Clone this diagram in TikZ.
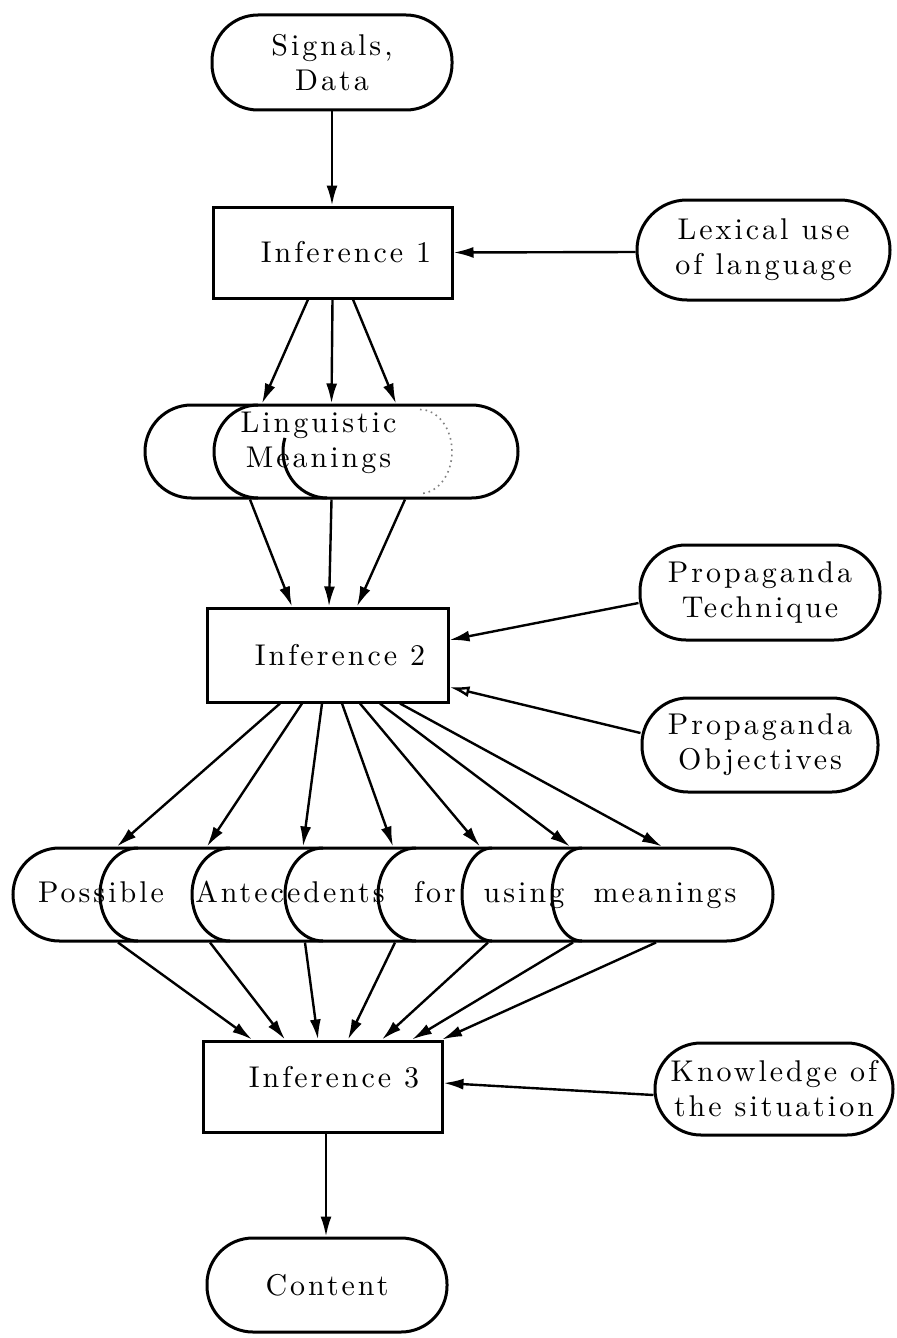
\documentclass[tikz,border=0pt]{standalone}
\usepackage{fontspec}
\setmainfont{lmroman10-regular.otf}[LetterSpace=10]
\usetikzlibrary{arrows.meta,calc}
\newcommand{\dtxt}{\fontsize{15pt}{17.5pt}\selectfont}
\begin{document}
\begin{tikzpicture}[x=0.5pt,y=-0.5pt,
  stad/.style={draw, line width=1.5pt, rounded corners=23pt, inner sep=0pt, align=center, font=\dtxt},
  box/.style={draw, line width=1.5pt, inner sep=0pt},
  txt/.style={inner sep=0pt, align=center, font=\dtxt},
  arr/.style={line width=1.2pt, -{Latex[length=10pt,width=5.5pt]}},
  arc/.style={line width=1.5pt}]
\fill[white] (0,0) rectangle (896,1338);
\useasboundingbox (0,0) rectangle (896,1338);

% top
\node[stad, minimum width=120pt, minimum height=47.5pt] (sig) at (332,62.5) {Signals,\\Data};
\node[box, minimum width=119.5pt, minimum height=45.5pt] (inf1) at (332.5,252.5) {};
\node[txt] (inf1t) at (346,252) {Inference 1};
\node[stad, minimum width=126.5pt, minimum height=50pt, rounded corners=25pt] (lex) at (763.5,250) {Lexical use\\of language};

% linguistic meanings
\node[stad, minimum width=186.5pt, minimum height=46.5pt, rounded corners=23.25pt] (ling) at (331.5,451.5) {};
\draw[arc] (258,405) arc[start angle=270, end angle=90, x radius=44, y radius=46.5];
\draw[arc] (284.9,437.9) arc[start angle=197, end angle=90, x radius=44, y radius=46.5];
\draw[gray, dotted, line width=0.8pt] (420,409.5) arc[start angle=-90, end angle=90, x radius=32, y radius=42];
\node[txt] (lingt) at (318.5,442.5) {Linguistic\\Meanings};

% inference 2
\node[box, minimum width=120.5pt, minimum height=47pt] (inf2) at (327.5,655) {};
\node[txt] (inf2t) at (340,655) {Inference 2};
\node[stad, minimum width=120pt, minimum height=47.5pt] (tech) at (760,592.5) {Propaganda\\Technique};
\node[stad, minimum width=118pt, minimum height=47pt] (obj) at (760,745) {Propaganda\\Objectives};

% possible antecedents
\node[stad, minimum width=380pt, minimum height=46.5pt, rounded corners=23.25pt] (ante) at (393,894.5) {};
\foreach \L/\r in {100/38, 192/38, 285/38, 378/38, 462/30, 552/30}
  \draw[arc] (\L+\r,848) arc[start angle=270, end angle=90, x radius=\r, y radius=46.5];
\node[txt, anchor=base] (a1) at (101,902) {Possible};
\node[txt, anchor=base] (a2) at (290,902) {Antecedents};
\node[txt, anchor=base] (a3) at (435,902) {for};
\node[txt, anchor=base] (a4) at (524,902) {using};
\node[txt, anchor=base] (a5) at (665,902) {meanings};

% inference 3
\node[box, minimum width=119.5pt, minimum height=45.5pt] (inf3) at (322.5,1086.5) {};
\node[txt] (inf3t) at (334,1077) {Inference 3};
\node[stad, minimum width=119pt, minimum height=46pt] (know) at (774,1089) {Knowledge of\\the situation};
\node[stad, minimum width=120pt, minimum height=47pt] (cont) at (327,1285) {Content};

% connectors
\draw[arr] (sig.south) -- ([xshift=-0.25pt]inf1.north);
\draw[arr] ([yshift=-1pt]lex.west) -- (inf1.east);
\foreach \a/\b in {-12.25/-34.75, 0/0, 10.25/32.25}
  \draw[arr] ([xshift=\a pt]inf1.south) -- ([xshift=\b pt]ling.north);
\foreach \a/\b in {-40.75/-17.75, 0/0.75, 36.75/14.75}
  \draw[arr] ([xshift=\a pt]ling.south) -- ([xshift=\b pt]inf2.north);
\draw[arr] ([yshift=-5.25pt]tech.west) -- ([yshift=7.5pt]inf2.east);
\draw[line width=1.2pt, -{Latex[open,length=10pt,width=5.5pt]}] ([yshift=6pt]obj.west) -- ([yshift=-16pt]inf2.east);
\foreach \a/\b in {-23.75/-138, -12.75/-93, -2.75/-45, 7.25/0, 16.25/43.5, 26.25/88.5, 36.25/134.5}
  \draw[arr] ([xshift=\a pt]inf2.south) -- ([xshift=\b pt]ante.north);
\foreach \a/\b in {-137.5/-35.25, -91.5/-18.75, -44/-2.25, 1/12.75, 47.5/29.75, 90/44.75, 131.5/59.75}
  \draw[arr] ([xshift=\a pt]ante.south) -- ([xshift=\b pt]inf3.north);
\draw[arr] ([yshift=-3pt]know.west) -- ([yshift=1.75pt]inf3.east);
\draw[arr] ([xshift=1.75pt]inf3.south) -- ([xshift=-0.5pt]cont.north);
\end{tikzpicture}
\end{document}
